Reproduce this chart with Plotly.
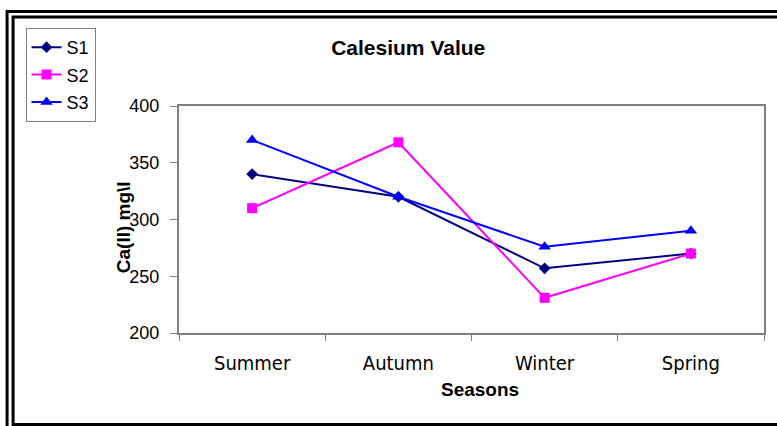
import plotly.graph_objects as go

seasons = ["Summer", "Autumn", "Winter", "Spring"]
s1 = [340, 320, 257, 270]
s2 = [310, 368, 231, 270]
s3 = [370, 320, 276, 290]

W, H = 777, 426
L, R, T, B = 179, 11, 106, 93


def px(x):
    return (x - L) / (W - L - R)


def py(y):
    return (H - B - y) / (H - T - B)


fig = go.Figure()
fig.add_trace(go.Scatter(x=seasons, y=s1, name="S1", mode="lines+markers", legendgroup="a",
                         line=dict(color="#000080", width=2),
                         marker=dict(symbol="diamond", size=9, color="#000080")))
fig.add_trace(go.Scatter(x=seasons, y=s2, name="S2", mode="lines+markers", legendgroup="b",
                         line=dict(color="#FF00FF", width=2),
                         marker=dict(symbol="square", size=10, color="#FF00FF")))
fig.add_trace(go.Scatter(x=seasons, y=s3, name="S3", mode="lines+markers", legendgroup="c",
                         line=dict(color="#0000FF", width=2),
                         marker=dict(symbol="triangle-up", size=11, color="#0000FF")))

fig.update_layout(
    width=W, height=H,
    margin=dict(l=L, r=R, t=T, b=B),
    paper_bgcolor="white", plot_bgcolor="white",
    font=dict(family="Liberation Sans, Arial", size=14, color="black"),
    showlegend=True,
    legend=dict(x=px(25), y=py(28), xanchor="left", yanchor="top",
                bordercolor="#808080", borderwidth=1, bgcolor="white",
                font=dict(size=18), tracegroupgap=1),
    title=dict(text="<b>Calesium Value</b>", x=px(409), xref="paper", xanchor="center",
               y=1 - 48 / H, yref="container", yanchor="middle",
               font=dict(size=21, family="Liberation Sans, Arial")),
)
fig.update_xaxes(type="category", range=[-0.5, 3.5], tickson="boundaries",
                 ticks="outside", ticklen=6, tickcolor="#808080",
                 showline=True, linecolor="#808080", linewidth=2, mirror=True,
                 showgrid=False, ticklabelstandoff=11,
                 tickfont=dict(family="DejaVu Sans Condensed, Liberation Sans", size=20))
fig.update_yaxes(range=[200, 400], dtick=50, ticks="outside", ticklen=7, tickcolor="#808080",
                 showline=True, linecolor="#808080", linewidth=2, mirror=True,
                 showgrid=False, zeroline=False, ticklabelstandoff=7, tickfont=dict(size=18))

fig.add_annotation(text="<b>Seasons</b>", x=px(481), y=py(389), xref="paper", yref="paper",
                   xanchor="center", yanchor="middle", showarrow=False, font=dict(size=19))
fig.add_annotation(text="<b>Ca(II) mg\\l</b>", x=px(123), y=py(227), xref="paper", yref="paper",
                   xanchor="center", yanchor="middle", showarrow=False, textangle=-90,
                   font=dict(size=19))

# double frame around the chart
fig.add_shape(type="rect", xref="paper", yref="paper", x0=px(6.5), y0=py(11.5), x1=px(900), y1=py(600),
              line=dict(color="black", width=3), layer="above")
fig.add_shape(type="rect", xref="paper", yref="paper", x0=px(12.5), y0=py(17), x1=px(900), y1=py(424.5),
              line=dict(color="black", width=3), layer="above")

fig.write_html("out.html", config={"displayModeBar": False},
               post_script="document.body.style.margin='0';")
